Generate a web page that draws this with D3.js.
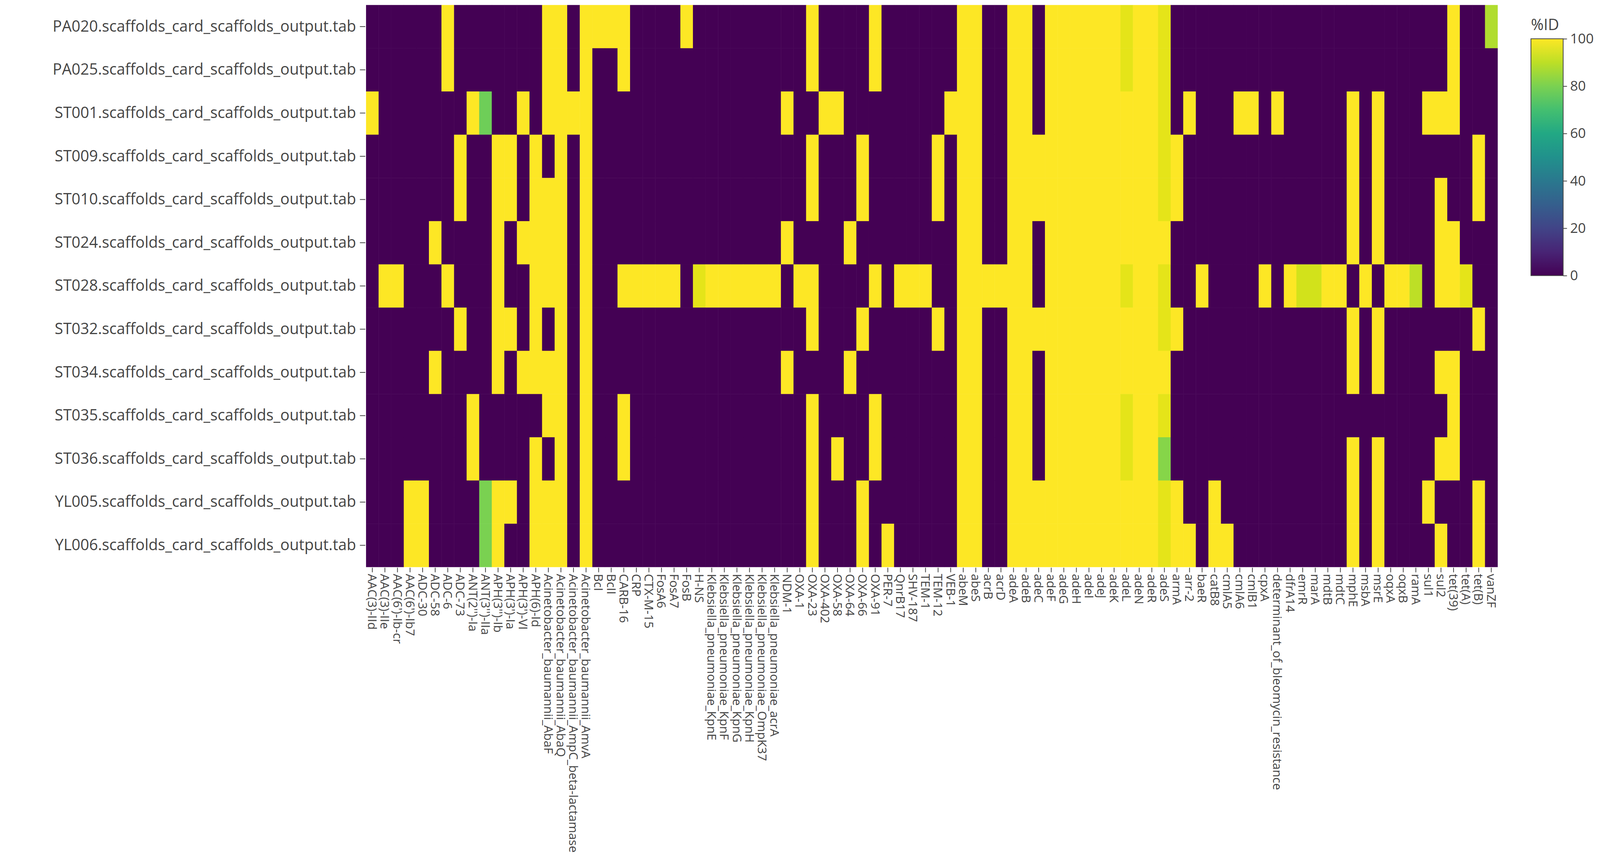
<!DOCTYPE html>
<html>
<head>
<meta charset="utf-8">
<script src="https://cdn.jsdelivr.net/npm/d3@7"></script>
<style>
  html, body { margin: 0; padding: 0; overflow: hidden; background: #fff; }
  svg { display: block; width: 100vw; height: 100vh; }
  text { font-family: "Open Sans", sans-serif; fill: #444; }
</style>
</head>
<body>
<svg id="chart" viewBox="0 0 4170 2211" preserveAspectRatio="xMinYMin meet"></svg>
<script>
const samples = ["PA020", "PA025", "ST001", "ST009", "ST010", "ST024", "ST028", "ST032", "ST034", "ST035", "ST036", "YL005", "YL006"]
    .map(s => s + ".scaffolds_card_scaffolds_output.tab");

const genes = ["AAC(3)-IId", "AAC(3)-IIe", "AAC(6')-Ib-cr", "AAC(6')-Ib7", "ADC-30", "ADC-58", "ADC-6", "ADC-73",
    "ANT(2'')-Ia", "ANT(3'')-IIa", "APH(3'')-Ib", "APH(3')-Ia", "APH(3')-VI", "APH(6)-Id",
    "Acinetobacter_baumannii_AbaF", "Acinetobacter_baumannii_AbaQ", "Acinetobacter_baumannii_AmpC_beta-lactamase",
    "Acinetobacter_baumannii_AmvA", "BcI", "BcII", "CARB-16", "CRP", "CTX-M-15", "FosA6", "FosA7", "FosB", "H-NS",
    "Klebsiella_pneumoniae_KpnE", "Klebsiella_pneumoniae_KpnF", "Klebsiella_pneumoniae_KpnG", "Klebsiella_pneumoniae_KpnH",
    "Klebsiella_pneumoniae_OmpK37", "Klebsiella_pneumoniae_acrA", "NDM-1", "OXA-1", "OXA-23", "OXA-402", "OXA-58",
    "OXA-64", "OXA-66", "OXA-91", "PER-7", "QnrB17", "SHV-187", "TEM-1", "TEM-12", "VEB-1", "abeM", "abeS", "acrB",
    "acrD", "adeA", "adeB", "adeC", "adeF", "adeG", "adeH", "adeI", "adeJ", "adeK", "adeL", "adeN", "adeR", "adeS",
    "armA", "arr-2", "baeR", "catB8", "cmlA5", "cmlA6", "cmlB1", "cpxA", "determinant_of_bleomycin_resistance",
    "dfrA14", "emrR", "marA", "mdtB", "mdtC", "mphE", "msbA", "msrE", "oqxA", "oqxB", "ramA", "sul1", "sul2",
    "tet(39)", "tet(A)", "tet(B)", "vanZF"];

// %ID per sample (rows), one value per gene
const pa020 = [0,0,0,0,0,0,100,0,0,0, 0,0,0,0,100,100,0,100,100,100, 100,0,0,0,0,100,0,0,0,0, 0,0,0,0,0,100,0,0,0,0,
    100,0,0,0,0,0,0,100,100,0, 0,100,100,0,100,100,100,100,100,100, 96,100,100,96,0,0,0,0,0,0, 0,0,0,0,0,0,0,0,0,0, 0,0,0,0,0,0,100,0,0,88];
const pa025 = [0,0,0,0,0,0,100,0,0,0, 0,0,0,0,100,100,0,100,0,0, 100,0,0,0,0,0,0,0,0,0, 0,0,0,0,0,100,0,0,0,0,
    100,0,0,0,0,0,0,100,100,0, 0,100,100,0,100,100,100,100,100,100, 96,100,100,96,0,0,0,0,0,0, 0,0,0,0,0,0,0,0,0,0, 0,0,0,0,0,0,100,0,0,0];
const st001 = [100,0,0,0,0,0,0,0,100,78, 0,0,100,0,100,100,100,100,0,0, 0,0,0,0,0,0,0,0,0,0, 0,0,0,100,0,0,100,100,0,0,
    0,0,0,0,0,0,100,100,100,0, 0,100,100,0,100,100,100,100,100,100, 100,100,100,96,0,100,0,0,0,100, 100,0,100,0,0,0,0,0,100,0, 100,0,0,0,100,100,100,0,0,0];
const st009 = [0,0,0,0,0,0,0,100,0,0, 100,100,0,100,0,100,0,100,0,0, 0,0,0,0,0,0,0,0,0,0, 0,0,0,0,0,100,0,0,0,100,
    0,0,0,0,0,100,0,100,100,0, 0,100,100,100,100,100,100,100,100,100, 100,100,100,96,100,0,0,0,0,0, 0,0,0,0,0,0,0,0,100,0, 100,0,0,0,0,0,0,0,100,0];
const st010 = [0,0,0,0,0,0,0,100,0,0, 100,100,0,100,100,100,0,100,0,0, 0,0,0,0,0,0,0,0,0,0, 0,0,0,0,0,100,0,0,0,100,
    0,0,0,0,0,100,0,100,100,0, 0,100,100,100,100,100,100,100,100,100, 100,100,100,96,100,0,0,0,0,0, 0,0,0,0,0,0,0,0,100,0, 100,0,0,0,0,100,0,0,100,0];
const st024 = [0,0,0,0,0,100,0,0,0,0, 100,0,100,100,100,100,0,100,0,0, 0,0,0,0,0,0,0,0,0,0, 0,0,0,100,0,0,0,0,100,0,
    0,0,0,0,0,0,0,100,100,0, 0,100,100,0,100,100,100,100,100,100, 100,100,100,100,0,0,0,0,0,0, 0,0,0,0,0,0,0,0,100,0, 100,0,0,0,0,100,100,0,0,0];
const st028 = [0,100,100,0,0,0,100,0,0,0, 100,0,0,100,100,100,0,100,0,0, 100,100,100,100,100,0,96,100,100,100, 100,100,100,0,100,100,0,0,0,0,
    100,0,100,100,100,0,0,100,100,100, 100,100,100,0,100,100,100,100,100,100, 96,100,100,96,0,0,100,0,0,0, 0,100,0,100,93,93,100,100,0,100, 0,100,100,90,0,100,100,96,0,0];
const st032 = [0,0,0,0,0,0,0,100,0,0, 100,100,0,100,0,100,0,100,0,0, 0,0,0,0,0,0,0,0,0,0, 0,0,0,0,0,100,0,0,0,100,
    0,0,0,0,0,100,0,100,100,0, 0,100,100,100,100,100,100,100,100,100, 100,100,100,96,100,0,0,0,0,0, 0,0,0,0,0,0,0,0,100,0, 100,0,0,0,0,0,0,0,100,0];
const st034 = [0,0,0,0,0,100,0,0,0,0, 100,0,100,100,100,100,0,100,0,0, 0,0,0,0,0,0,0,0,0,0, 0,0,0,100,0,0,0,0,100,0,
    0,0,0,0,0,0,0,100,100,0, 0,100,100,0,100,100,100,100,100,100, 100,100,100,100,0,0,0,0,0,0, 0,0,0,0,0,0,0,0,100,0, 100,0,0,0,0,100,100,0,0,0];
const st035 = [0,0,0,0,0,0,0,0,100,0, 0,0,0,0,100,100,0,100,0,0, 100,0,0,0,0,0,0,0,0,0, 0,0,0,0,0,100,0,0,0,0,
    100,0,0,0,0,0,0,100,100,0, 0,100,100,0,100,100,100,100,100,100, 96,100,100,96,0,0,0,0,0,0, 0,0,0,0,0,0,0,0,0,0, 0,0,0,0,0,0,100,0,0,0];
const st036 = [0,0,0,0,0,0,0,0,100,0, 0,0,0,100,0,100,0,100,0,0, 100,0,0,0,0,0,0,0,0,0, 0,0,0,0,0,100,0,100,0,0,
    100,0,0,0,0,0,0,100,100,0, 0,100,100,0,100,100,100,100,100,100, 96,100,100,82,0,0,0,0,0,0, 0,0,0,0,0,0,0,0,100,0, 100,0,0,0,0,100,100,0,0,0];
const yl005 = [0,0,0,100,100,0,0,0,0,80, 100,100,0,100,100,100,0,100,0,0, 0,0,0,0,0,0,0,0,0,0, 0,0,0,0,0,100,0,0,0,100,
    0,0,0,0,0,0,0,100,100,0, 0,100,100,100,100,100,100,100,100,100, 100,100,100,96,100,0,0,100,0,0, 0,0,0,0,0,0,0,0,100,0, 100,0,0,0,100,0,0,0,100,0];
const yl006 = [0,0,0,100,100,0,0,0,0,80, 100,0,0,100,100,100,0,100,0,0, 0,0,0,0,0,0,0,0,0,0, 0,0,0,0,0,100,0,0,0,100,
    0,100,0,0,0,0,0,100,100,0, 0,100,100,100,100,100,100,100,100,100, 100,100,100,96,100,100,0,100,100,0, 0,0,0,0,0,0,0,0,100,0, 100,0,0,0,0,100,0,0,100,0];

const values = [pa020, pa025, st001, st009, st010, st024, st028, st032, st034, st035, st036, yl005, yl006];
const colorTicks = [0, 20, 40, 60, 80, 100];

const svg = d3.select("#chart");
const plot = { left: 954, top: 13, width: 2949, height: 1464 };

const x = d3.scaleBand().domain(genes).range([plot.left, plot.left + plot.width]);
const y = d3.scaleBand().domain(samples).range([plot.top, plot.top + plot.height]);
const color = d3.scaleSequential(d3.interpolateViridis).domain([0, 100]);

let cells = [];
values.forEach((row, i) => row.forEach((v, j) => cells.push({ s: samples[i], g: genes[j], v: v })));

svg.append("g").selectAll("rect")
    .data(cells)
    .join("rect")
    .attr("x", d => x(d.g))
    .attr("y", d => y(d.s))
    .attr("width", x.bandwidth() + 0.5)
    .attr("height", y.bandwidth() + 0.5)
    .attr("fill", d => color(d.v));

// axes
let yAxis = svg.append("g")
    .attr("transform", `translate(${plot.left - 2},0)`)
    .call(d3.axisLeft(y).tickSize(14).tickPadding(10));
yAxis.select(".domain").remove();
yAxis.selectAll("line").attr("stroke", "#444").attr("stroke-width", 2);
yAxis.selectAll("text").style("font-size", "40px").attr("fill", "#444");

let xAxis = svg.append("g")
    .attr("transform", `translate(0,${plot.top + plot.height + 2})`)
    .call(d3.axisBottom(x).tickSize(12).tickPadding(6));
xAxis.select(".domain").remove();
xAxis.selectAll("line").attr("stroke", "#444").attr("stroke-width", 2);
xAxis.selectAll("text")
    .style("font-size", "32px")
    .attr("fill", "#444")
    .attr("text-anchor", "start")
    .attr("dy", "0.35em")
    .attr("transform", "translate(0,16) rotate(90)")
    .attr("x", 0).attr("y", 0);

// colorbar
const cb = { x: 3990, y: 101, w: 84, h: 617 };
const grad = svg.append("defs").append("linearGradient")
    .attr("id", "vir").attr("x1", 0).attr("y1", 1).attr("x2", 0).attr("y2", 0);
d3.range(0, 1.01, 0.1).forEach(t => {
    grad.append("stop").attr("offset", t).attr("stop-color", d3.interpolateViridis(t));
});
svg.append("rect")
    .attr("x", cb.x).attr("y", cb.y).attr("width", cb.w).attr("height", cb.h)
    .attr("fill", "url(#vir)").attr("stroke", "#444").attr("stroke-width", 2);

const cScale = d3.scaleLinear().domain([0, 100]).range([cb.y + cb.h, cb.y]);
let cAxis = svg.append("g")
    .attr("transform", `translate(${cb.x + cb.w},0)`)
    .call(d3.axisRight(cScale).tickValues(colorTicks).tickSize(10).tickPadding(8));
cAxis.select(".domain").remove();
cAxis.selectAll("line").attr("stroke", "#444").attr("stroke-width", 2);
cAxis.selectAll("text").style("font-size", "36px").attr("fill", "#444");

svg.append("text")
    .attr("x", cb.x).attr("y", 78)
    .style("font-size", "40px")
    .text("%ID");
</script>
</body>
</html>
